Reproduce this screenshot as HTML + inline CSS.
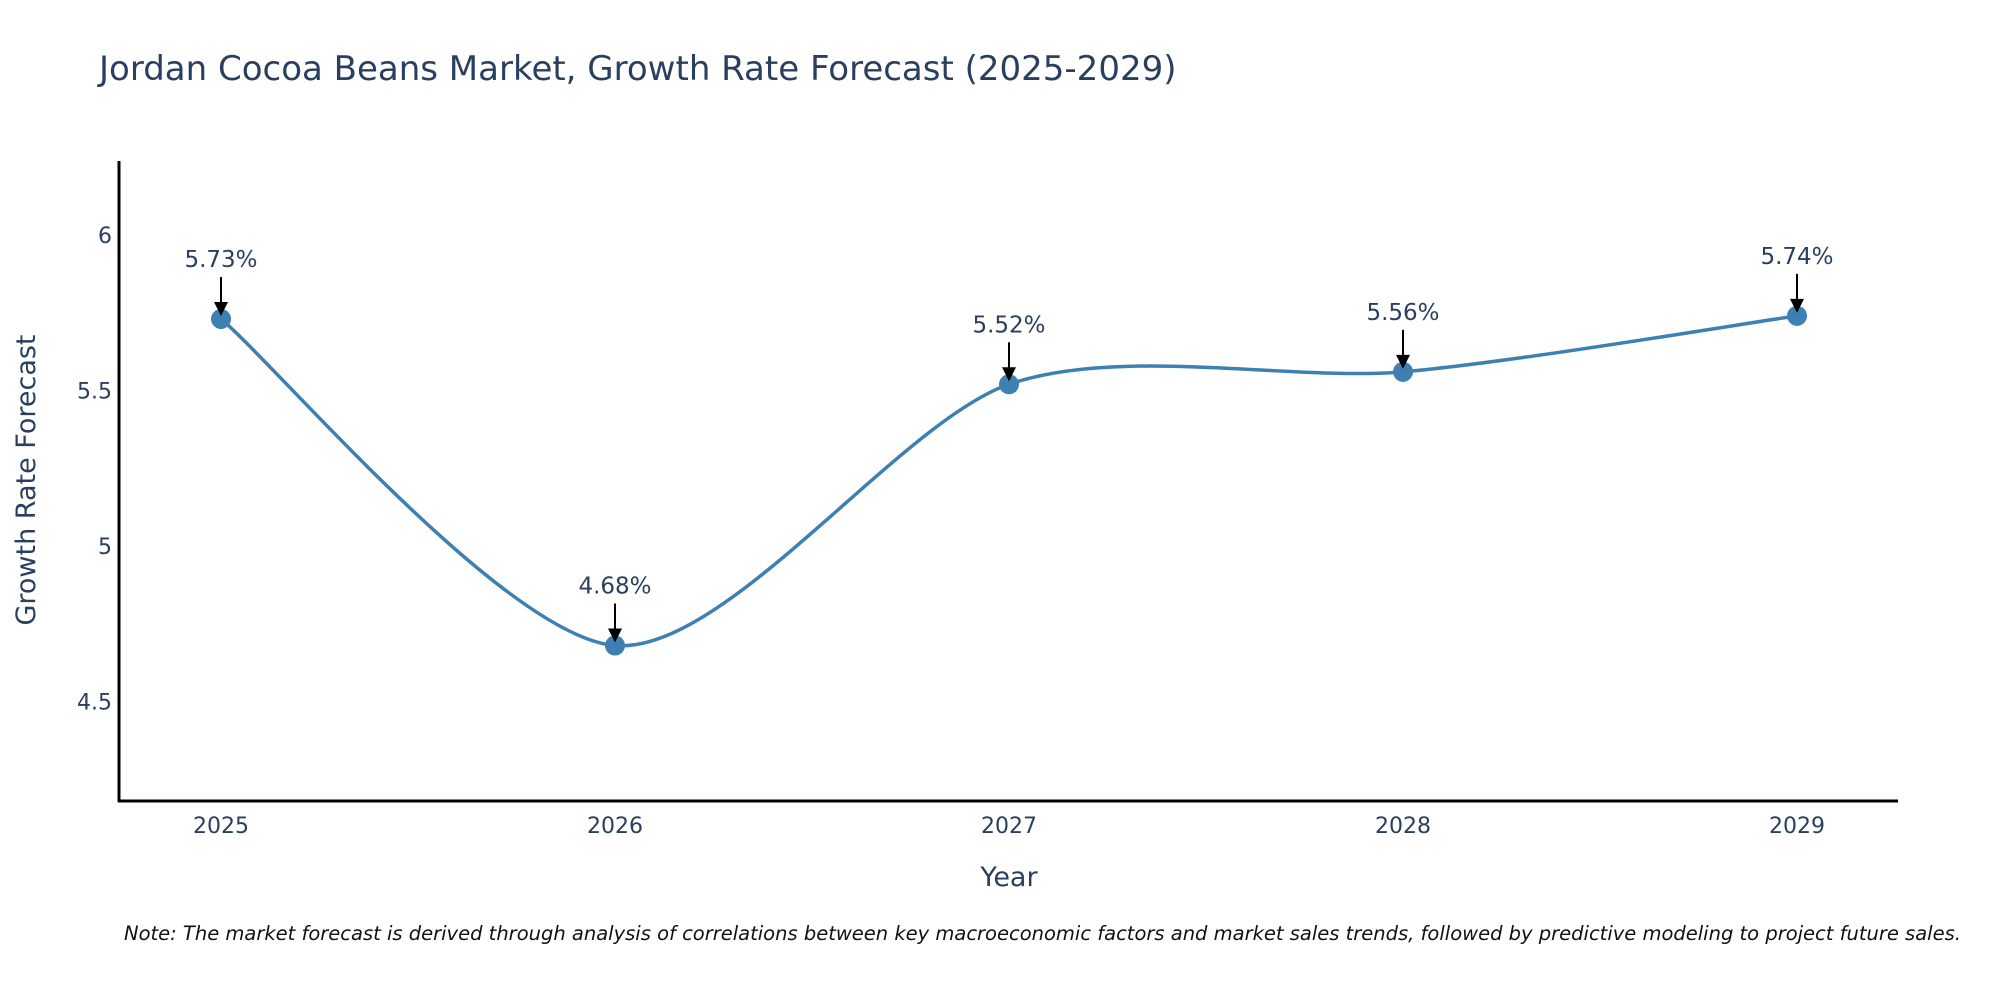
<!DOCTYPE html>
<html><head><meta charset="utf-8"><style>
body{margin:0;background:#fff;}
svg text{font-family:"DejaVu Sans","Liberation Sans",sans-serif;fill:#2a3f5f;}
</style></head><body>
<svg id="chart" width="2000" height="1000" viewBox="0 0 2000 1000" xmlns="http://www.w3.org/2000/svg">
<text x="99" y="80" font-size="34">Jordan Cocoa Beans Market, Growth Rate Forecast (2025-2029)</text>
<g id="plot"></g>
<line x1="119" y1="161" x2="119" y2="802" stroke="#000" stroke-width="3"/>
<line x1="118" y1="801" x2="1898" y2="801" stroke="#000" stroke-width="3"/>
<text x="1009" y="886" font-size="27" text-anchor="middle">Year</text>
<text transform="translate(35,480) rotate(-90)" font-size="27" text-anchor="middle">Growth Rate Forecast</text>
<text x="124" y="940" font-size="19.5" font-style="italic" style="fill:#111">Note: The market forecast is derived through analysis of correlations between key macroeconomic factors and market sales trends, followed by predictive modeling to project future sales.</text>
</svg>
<script>
const years=["2025","2026","2027","2028","2029"];
const values=[5.73,4.68,5.52,5.56,5.74];
const labels=["5.73%","4.68%","5.52%","5.56%","5.74%"];
const yTicks=[4.5,5,5.5,6];
const ns="http://www.w3.org/2000/svg";
const g=document.getElementById('plot');
const xs=i=>221+i*394;
const ys=v=>235+(6-v)*311;
function mk(t,a){const e=document.createElementNS(ns,t);for(const k in a)e.setAttribute(k,a[k]);return e;}
yTicks.forEach(v=>{const t=mk('text',{x:112,y:ys(v)+8,'font-size':22,'text-anchor':'end'});


t.textContent=String(v);g.appendChild(t);});
years.forEach((y,i)=>{const t=mk('text',{x:xs(i),y:833,'font-size':22,'text-anchor':'middle'});


t.textContent=y;g.appendChild(t);});
const P=values.map((v,i)=>[xs(i),ys(v)]);
let d='M'+P[0][0]+','+P[0][1];
const k=0.14;
for(let i=0;i<P.length-1;i++){const p0=P[Math.max(0,i-1)],p1=P[i],p2=P[i+1],p3=P[Math.min(P.length-1,i+2)];
const c1=[p1[0]+(p2[0]-p0[0])*k,p1[1]+(p2[1]-p0[1])*k],c2=[p2[0]-(p3[0]-p1[0])*k,p2[1]-(p3[1]-p1[1])*k];
d+=' C'+c1+' '+c2+' '+p2;}
const line=mk('path',{d:d,fill:'none',stroke:'#3d80b1','stroke-width':3.5});


g.appendChild(line);
P.forEach((p,i)=>{const c=mk('circle',{cx:p[0],cy:p[1],r:10,fill:'#3d80b1'});


g.appendChild(c);
const a=mk('line',{x1:p[0],y1:p[1]-42,x2:p[0],y2:p[1]-14,stroke:'#000','stroke-width':2});


g.appendChild(a);
const h=mk('path',{d:`M${p[0]-7},${p[1]-17} L${p[0]+7},${p[1]-17} L${p[0]},${p[1]-3} Z`,fill:'#000'});


g.appendChild(h);
const t=mk('text',{x:p[0],y:p[1]-52,'font-size':23,'text-anchor':'middle'});


t.textContent=labels[i];g.appendChild(t);});
</script>
</body></html>
